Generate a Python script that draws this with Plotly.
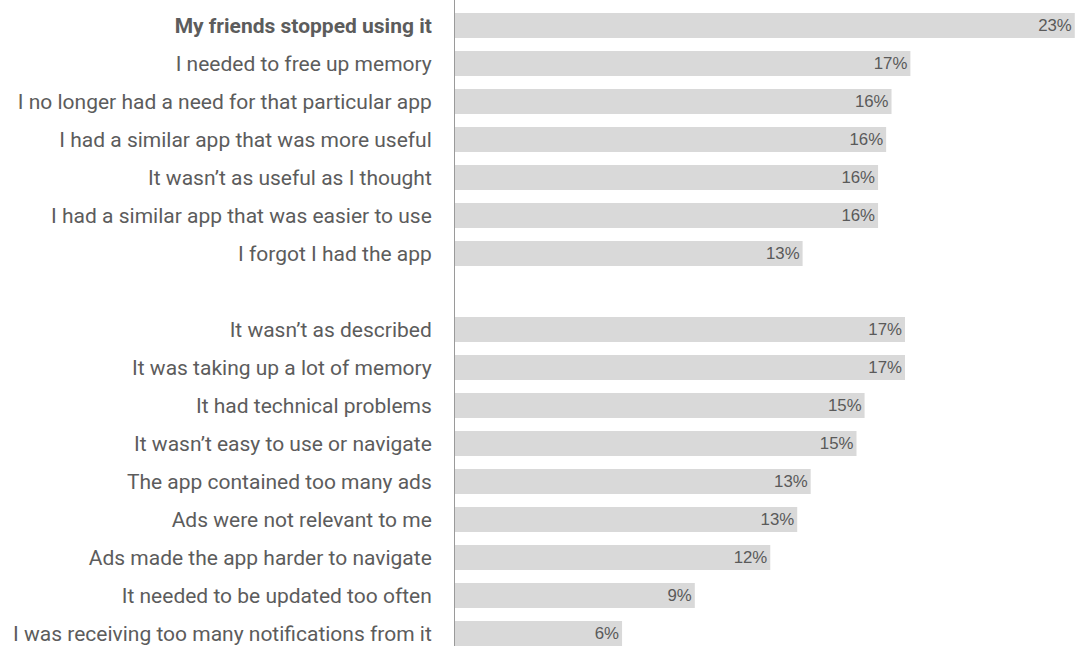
import plotly.graph_objects as go

# Reasons for uninstalling an app (share of respondents, %)
reasons_social = [
    "My friends stopped using it",
    "I needed to free up memory",
    "I no longer had a need for that particular app",
    "I had a similar app that was more useful",
    "It wasn’t as useful as I thought",
    "I had a similar app that was easier to use",
    "I forgot I had the app",
]
values_social = [23.0, 16.9, 16.2, 16.0, 15.7, 15.7, 12.9]

reasons_product = [
    "It wasn’t as described",
    "It was taking up a lot of memory",
    "It had technical problems",
    "It wasn’t easy to use or navigate",
    "The app contained too many ads",
    "Ads were not relevant to me",
    "Ads made the app harder to navigate",
    "It needed to be updated too often",
    "I was receiving too many notifications from it",
]
values_product = [16.7, 16.7, 15.2, 14.9, 13.2, 12.7, 11.7, 8.9, 6.2]

highlighted = "My friends stopped using it"

# blank slot between the two groups
spacer = " "
categories = reasons_social + [spacer] + reasons_product
values = values_social + [None] + values_product
labels = [f"{round(v)}%" if v is not None else "" for v in values]

tick_text = [f"<b>{c}</b>" if c == highlighted else c for c in categories]

fig = go.Figure(
    go.Bar(
        y=categories,
        x=values,
        orientation="h",
        width=0.66,
        marker=dict(color="#d9d9d9", line=dict(width=0)),
        text=labels,
        textposition="inside",
        insidetextanchor="end",
        textfont=dict(family="Liberation Sans, Arial, sans-serif", size=18.5, color="#5a5a5a"),
        cliponaxis=False,
        hoverinfo="skip",
    )
)

fig.update_layout(
    width=1078,
    height=646,
    margin=dict(l=455, r=0, t=0, b=0),
    paper_bgcolor="white",
    plot_bgcolor="white",
    showlegend=False,
    font=dict(family="Roboto, sans-serif", color="#5a5a5a"),
)

fig.update_xaxes(
    range=[0, 23.12],
    showgrid=False,
    zeroline=False,
    showticklabels=False,
    showline=False,
    fixedrange=True,
)

fig.update_yaxes(
    type="category",
    categoryorder="array",
    categoryarray=categories,
    tickmode="array",
    tickvals=categories,
    ticktext=tick_text,
    range=[16.33, -0.67],
    showgrid=False,
    zeroline=False,
    showline=True,
    linecolor="#9a9a9a",
    linewidth=1,
    ticks="",
    ticklabelstandoff=18,
    tickfont=dict(family="Roboto, sans-serif", size=21, color="#5c5c5c"),
    fixedrange=True,
)

fig.write_html("out.html")
